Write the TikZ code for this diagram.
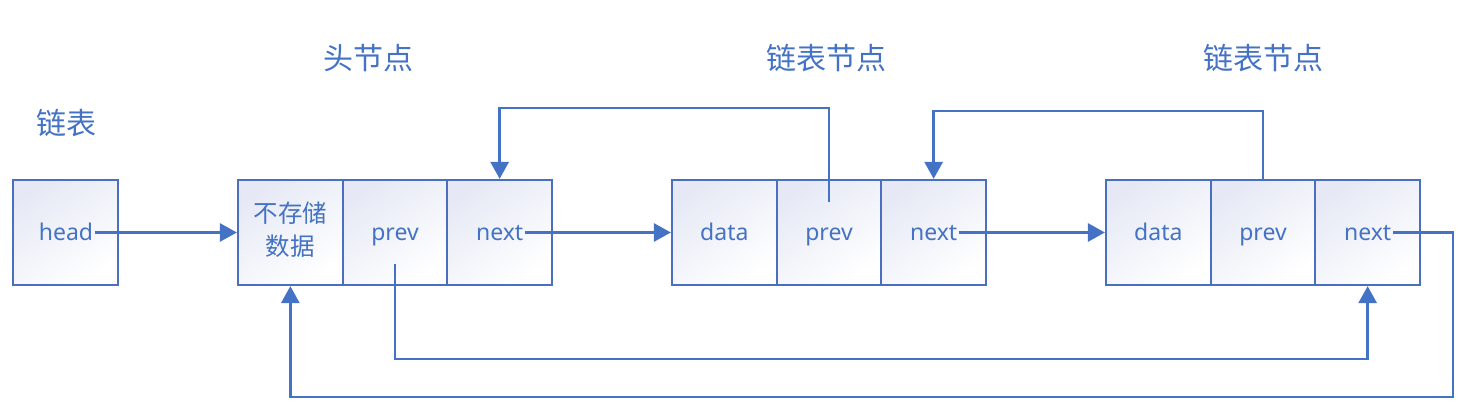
\documentclass[tikz,border=0pt]{standalone}
\usepackage{fontspec}
\setmainfont{Noto Sans}
\newfontfamily\cjk{Noto Sans CJK SC}
\usetikzlibrary{arrows.meta,calc}
\definecolor{lb}{HTML}{4472C4}
\definecolor{bd}{HTML}{4A6FBF}
\definecolor{shadeA}{HTML}{E6E9F5}
\begin{document}
\begin{tikzpicture}[x=1pt,y=-1pt,
  cell/.style={draw=bd,line width=2.2pt,minimum width=104.7pt,minimum height=105pt,inner sep=0pt,
    shading=axis,top color=shadeA,bottom color=white,shading angle=35},
  lbl/.style={inner sep=0pt,anchor=base,text=lb,font=\fontsize{23}{27}\selectfont},
  ttl/.style={inner sep=0pt,text=lb,font=\cjk\fontsize{30}{34}\selectfont},
  link/.style={draw=lb,line width=2.8pt},
  arr/.style={link,-{Triangle[length=17pt,width=18pt]}}]
\useasboundingbox (0,0) rectangle (1481,419);
% titles
\node[ttl] (t1) at (368,58) {头节点};
\node[ttl] (t2) at (826,58) {链表节点};
\node[ttl] (t3) at (1263,58) {链表节点};
\node[ttl] (t0) at (66,123) {链表};
% cells
\node[cell] (h) at (65.5,232.5) {};
\node[cell] (a1) at (290.35,232.5) {};
\node[cell] (b1) at (395,232.5) {};
\node[cell] (c1) at (499.65,232.5) {};
\node[cell] (a2) at (724.35,232.5) {};
\node[cell] (b2) at (829,232.5) {};
\node[cell] (c2) at (933.65,232.5) {};
\node[cell] (a3) at (1158.35,232.5) {};
\node[cell] (b3) at (1263,232.5) {};
\node[cell] (c3) at (1367.65,232.5) {};
% labels
\node[lbl] (ht) at (66,241) {head};
\node[lbl,anchor=center,font=\cjk\fontsize{24.5}{33}\selectfont,align=center] (a1t) at (290.35,230) {不存储\\数据};
\node[lbl] (b1t) at (395,241) {prev};
\node[lbl] (c1t) at (499.65,241) {next};
\node[lbl] (a2t) at (724.35,241) {data};
\node[lbl] (b2t) at (829,241) {prev};
\node[lbl] (c2t) at (933.65,241) {next};
\node[lbl] (a3t) at (1158.35,241) {data};
\node[lbl] (b3t) at (1263,241) {prev};
\node[lbl] (c3t) at (1367.65,241) {next};
% connector ends
\coordinate (p1s) at (395,264);
\coordinate (p2s) at (829,202);
% connectors
\draw[arr] (ht.base east) ++(1.5,-8.5) -- (a1.west);
\draw[arr] (c1t.base east) ++(1.5,-8.5) -- (a2.west);
\draw[arr] (c2t.base east) ++(1.5,-8.5) -- (a3.west);
\draw[arr] (c3t.base east) ++(1.5,-8.5) -- (1453,232.5) -- (1453,397) -- (a1.south |- 0,397) -- (a1.south);
\draw[arr] (p1s) -- (395,359) -- (c3.south |- 0,359) -- (c3.south);
\draw[arr] (p2s) -- (829,108) -- (c1.north |- 0,108) -- (c1.north);
\draw[arr] (b3.north) -- (1263,111) -- (c2.north |- 0,111) -- (c2.north);
\end{tikzpicture}
\end{document}
